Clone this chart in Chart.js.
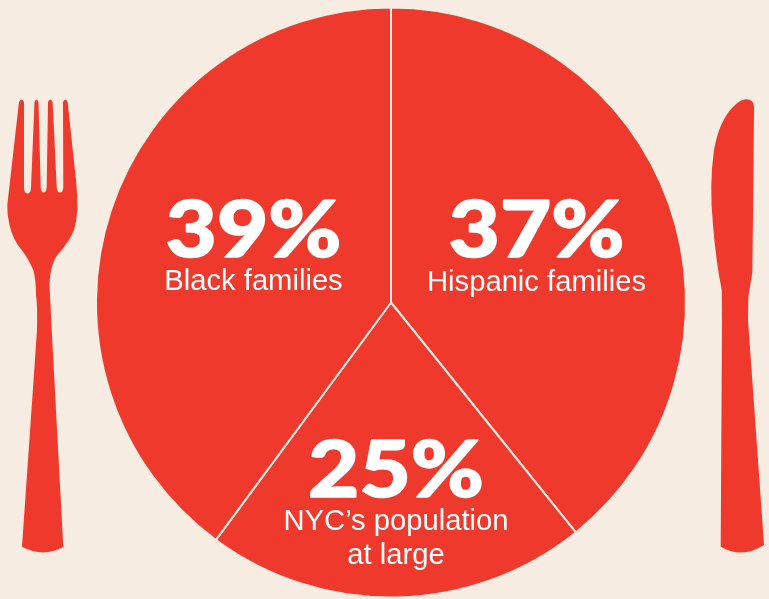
<!DOCTYPE html>
<html><head><meta charset="utf-8">
<style>html,body{margin:0;padding:0;background:#F7ECE1;overflow:hidden}canvas{display:block}</style>
<script src="https://cdn.jsdelivr.net/npm/chart.js@4"></script></head>
<body><canvas id="c" width="769" height="599"></canvas>
<script>
// Clockwise from 12 o'clock. The printed percentages are what the labels say;
// the drawn wedges in the picture do not follow them, so wedge sizes are read as angles.
const categories = ["Hispanic families", "NYC's population at large", "Black families"];
const percentLabels = ["37%", "25%", "39%"];
const sliceAngles = [141.2, 75.2, 143.6];

const RED = "#EF392C", CREAM = "#F7ECE1";
const BIG = "900 79px Lato, 'Open Sans', sans-serif";
const BIG_WIDEN = 1.12;
const SMALL = "29.2px 'Liberation Sans', Arial, sans-serif";
const labelPlacement = [
  {x: 536.5, big: 256.5, lines: ["Hispanic families"], ys: [290.5]},
  {x: 396, big: 496.5, lines: ["NYC\u2019s population", "at large"], ys: [530, 564]},
  {x: 253.5, big: 256.5, lines: ["Black families"], ys: [290]}
];
const forkPath = new Path2D("M19 102 Q21.5 97 24 102 L24 187 Q24 193.5 27.5 193.5 Q31 193.5 31 187 L34.5 102 Q36.5 97 38.5 102 L40.7 187 Q41 192.5 43.7 192.5 Q46.4 192.5 46.7 187 L48 102 Q50.3 97 52.6 102 L56.7 187 Q57 192.5 60 192.5 Q63 192.5 63.3 187 L63 102 Q65.3 97 67.6 102 L76 180 Q77.6 195 77.3 210 Q77 220 74 230 Q70 240 60 252 Q50 262 49.5 285 L51.7 330 L63.3 547 Q43 558 22 546.7 L37 330 Q37.5 305 36 295 Q36 280 33.3 270 Q28 258 21.7 250 Q13 240 9.5 225 Q7 215 7.3 205 Z");
const knifePath = new Path2D("M746 99.3 Q754 99.5 754 107 L753.3 190 L752.3 273 L748.3 296.7 L748 320 L764 545 Q742 559 720.7 546.7 L722 320 L721.7 290 Q716 262 713 225 Q709 185 714 150 Q719 122 732 108 Q739 100 746 99.3 Z");

const decor = {
  id: "decor",
  beforeDraw(chart) {
    const g = chart.ctx;
    g.save();
    g.fillStyle = RED;
    g.fill(forkPath);
    g.fill(knifePath);
    g.restore();
  },
  afterDraw(chart) {
    const g = chart.ctx;
    g.save();
    g.fillStyle = "#fff";
    g.strokeStyle = "#fff";
    g.textAlign = "center";
    g.textBaseline = "alphabetic";
    labelPlacement.forEach((p, i) => {
      g.save();
      g.translate(p.x, p.big);
      g.scale(BIG_WIDEN, 1);
      g.font = BIG;
      g.lineWidth = 1.6;
      g.lineJoin = "round";
      g.fillText(percentLabels[i], 0, 0);
      g.strokeText(percentLabels[i], 0, 0);
      g.restore();
      g.font = SMALL;
      p.lines.forEach((t, j) => g.fillText(t, p.x, p.ys[j]));
    });
    g.restore();
  }
};

new Chart(document.getElementById("c"), {
  type: "pie",
  data: {
    labels: categories,
    datasets: [{
      data: sliceAngles,
      backgroundColor: RED,
      borderColor: CREAM,
      borderWidth: 2,
      borderJoinStyle: "round",
      hoverOffset: 0
    }]
  },
  options: {
    responsive: false,
    animation: false,
    layout: {padding: {left: 95, right: 82, top: 6.5, bottom: 0.5}},
    plugins: {legend: {display: false}, tooltip: {enabled: false}, title: {display: false}}
  },
  plugins: [decor]
});
</script></body></html>
